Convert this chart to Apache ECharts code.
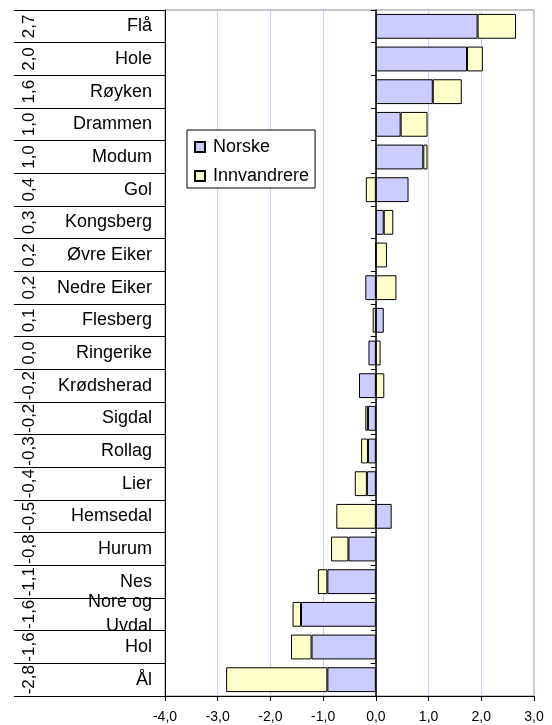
<!DOCTYPE html>
<html>
<head>
<meta charset="utf-8">
<script src="https://cdn.jsdelivr.net/npm/echarts@6/dist/echarts.min.js"></script>
<style>
  html, body { margin: 0; padding: 0; background: #fff; }
  #grafico { width: 552px; height: 725px; }
</style>
</head>
<body>
<div id="grafico"></div>
<script>
// Datos del gráfico
const kommuner = ['Flå', 'Hole', 'Røyken', 'Drammen', 'Modum', 'Gol', 'Kongsberg', 'Øvre Eiker',
  'Nedre Eiker', 'Flesberg', 'Ringerike', 'Krødsherad', 'Sigdal', 'Rollag', 'Lier', 'Hemsedal',
  'Hurum', 'Nes', 'Nore og\nUvdal', 'Hol', 'Ål'];
const totalt = [2.7, 2.0, 1.6, 1.0, 1.0, 0.4, 0.3, 0.2, 0.2, 0.1, 0.0, -0.2, -0.2, -0.3, -0.4, -0.5,
  -0.8, -1.1, -1.6, -1.6, -2.8];
const norske = [1.93, 1.73, 1.08, 0.47, 0.90, 0.62, 0.15, 0.00, -0.20, 0.15, -0.14, -0.32, -0.15,
  -0.15, -0.17, 0.30, -0.52, -0.92, -1.42, -1.22, -0.92];
const innvandrere = [0.73, 0.30, 0.55, 0.51, 0.08, -0.19, 0.18, 0.21, 0.39, -0.06, 0.09, 0.16, -0.05,
  -0.13, -0.23, -0.75, -0.33, -0.18, -0.16, -0.39, -1.92];
const serieNavn = ['Norske', 'Innvandrere'];

const fuente = "'Liberation Sans', Arial, sans-serif";
const coma = v => v.toFixed(1).replace('.', ',');

const opciones = {
  animation: false,
  textStyle: { fontFamily: fuente },
  grid: {
    left: 165, right: 18, top: 10, bottom: 29,
    show: true, borderColor: '#8c8c8c', borderWidth: 1,
    outerBoundsMode: 'none'
  },
  legend: {
    data: serieNavn,
    orient: 'vertical',
    left: 187, top: 130,
    padding: [8, 6, 3, 7],
    itemWidth: 10, itemHeight: 10, itemGap: 11,
    icon: 'rect',
    backgroundColor: '#fff',
    borderColor: '#000', borderWidth: 1,
    textStyle: { fontSize: 18, lineHeight: 18, color: '#000', fontFamily: fuente, padding: [0, 0, 0, 3] }
  },
  xAxis: {
    type: 'value',
    min: -4, max: 3, interval: 1,
    axisLine: { show: true, lineStyle: { color: '#000', width: 1 } },
    axisTick: { show: true, length: 5, lineStyle: { color: '#000' } },
    axisLabel: { formatter: coma, fontSize: 14, color: '#000', margin: 14, fontFamily: fuente },
    splitLine: { show: true, lineStyle: { color: '#ccccff', width: 1 } }
  },
  yAxis: [
    {
      // eje de las barras, en cero
      type: 'category', data: kommuner, inverse: true, position: 'left',
      axisLine: { onZero: true, lineStyle: { color: '#000', width: 1.5 } },
      axisTick: { show: true, length: 5, lineStyle: { color: '#000' } },
      axisLabel: { show: false },
      splitLine: { show: false }
    },
    {
      // nombres y líneas de la tabla
      type: 'category', data: kommuner, inverse: true, position: 'left',
      axisLine: { onZero: false, lineStyle: { color: '#000', width: 1 } },
      axisTick: { show: true, length: 151, lineStyle: { color: '#000', width: 1 } },
      axisLabel: { interval: 0, fontSize: 18, lineHeight: 24, color: '#000', margin: 13, fontFamily: fuente },
      splitLine: { show: false }
    },
    {
      // totales giradas
      type: 'category', data: totalt.map(coma), inverse: true, position: 'left',
      axisLine: { show: false, onZero: false },
      axisTick: { show: false },
      axisLabel: { interval: 0, rotate: 90, fontSize: 17, color: '#000', margin: 127, fontFamily: fuente },
      splitLine: { show: false }
    }
  ],
  series: [
    {
      name: serieNavn[0], type: 'bar', stack: 'total', yAxisIndex: 0,
      data: norske, barCategoryGap: '24%',
      itemStyle: { color: '#ccccff', borderColor: '#000', borderWidth: 1 }
    },
    {
      name: serieNavn[1], type: 'bar', stack: 'total', yAxisIndex: 0,
      data: innvandrere, barCategoryGap: '24%',
      itemStyle: { color: '#ffffcc', borderColor: '#000', borderWidth: 1 }
    }
  ]
};

let miGrafico = echarts.init(document.getElementById('grafico'), null, { renderer: 'canvas' });
miGrafico.setOption(opciones);
</script>
</body>
</html>
